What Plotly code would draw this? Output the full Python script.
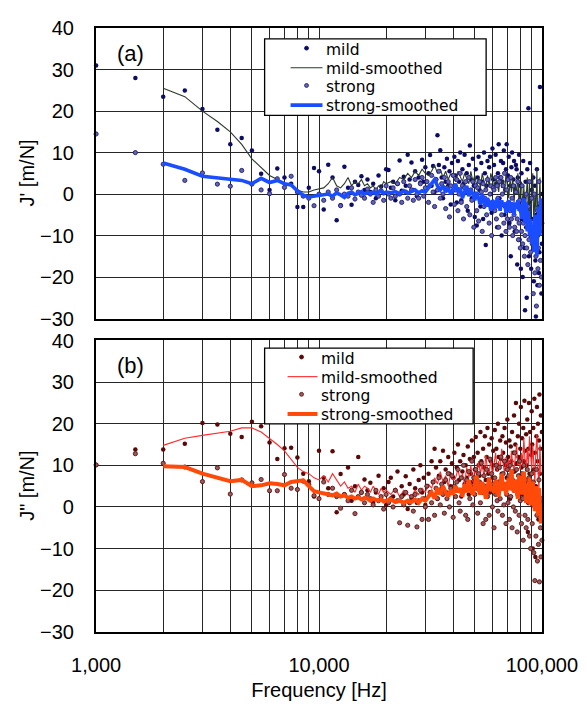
import plotly.graph_objects as go

# ---------------- data ----------------
# measurement frequencies (Hz): 1000 ... 100000 in 500 Hz steps (199 points)
freq = list(range(1000, 100001, 500))
# frequencies at which the smoothed curves are drawn
sm_freq = list(range(2000, 20001, 500)) + list(range(21000, 99001, 1000))

a_mild = [
    31, 28, 23.5, 25, 20.5, 15.5, 12, 13.5, 10.5, 4.9,
    1.0, 6.2, 4.0, 2.5, -3.1, -3.1, 1.5, 6.3, 5.5, -3.7,
    7.1, 4.0, -6.3, -2.7, 6.6, 1.5, -2.6, 3.0, 2.2, 4.3,
    1.0, 3.5, 0.5, 2.5, -1.0, 4.5, 1.8, 0.2, 6.0, 5.8,
    1.5, 3.0, -1.5, 2.5, 8.1, 0.8, 4.2, 2.0, 9.5, 3.5,
    7.6, 1.0, 5.5, -0.5, 4.0, 2.8, 8.3, 3.0, 6.5, 1.5,
    5.0, 9.4, 2.0, 6.8, 0.5, 3.5, 14.2, 7.0, 10.6, 4.0,
    -1.0, 6.5, 3.0, 8.5, 2.0, 5.5, -2.5, 7.5, 1.0, 9.0,
    4.5, -2.0, 8.0, 3.0, 10.0, -1.5, 6.0, 2.5, 9.5, 0.5,
    5.0, -4.0, 7.0, 11.7, 3.5, -1.0, 8.5, 2.0, -5.5, 6.0,
    -7.6, 4.0, 9.0, 1.0, -3.0, 7.5, 3.0, -6.0, 10.0, 5.0,
    -12.3, 2.0, 8.0, -2.0, 6.5, 9.0, 0.0, -4.5, 11.0, 3.5,
    7.0, -3.0, 9.5, 2.5, -8.0, 5.0, 12.0, -1.0, 4.0, 8.0,
    -10.0, 3.0, 7.5, 10.5, -5.0, 1.0, 6.0, 12.0, -2.5, 4.5,
    9.0, -7.0, 2.0, -15.0, 6.5, 10.0, -4.0, 3.5, 8.0, -9.0,
    1.0, 7.0, 6.0, -17.0, 4.0, -3.0, 9.5, -11.0, 2.0, -18.0,
    5.0, -6.0, -20.0, 8.0, -1.0, -13.0, -28.0, 3.0, -8.0, -25.0,
    6.0, -4.0, 20.7, -15.0, -2.0, 7.5, -10.0, -18.0, 1.0, -6.0,
    -12.0, 4.0, -21.0, -8.0, 2.0, -16.0, -29.5, -5.0, 6.0, -22.0,
    -10.0, -3.0, -19.0, -14.0, 25.8, -7.0, 0.0, -24.0, -12.0,
]
a_strong = [
    14.5, 10.0, 7.2, 3.3, 5.1, 2.4, 1.9, 5.7, 2.4, 1.0,
    0.1, 3.7, 1.6, 4.3, 0.5, -0.5, -1.0, -2.8, 0.0, -1.5,
    0.5, -1.0, 1.0, -2.8, 0.0, -0.5, 1.5, -1.2, 0.5, -0.3,
    -1.0, 1.2, 0.0, -2.0, 1.0, -0.5, 0.8, -1.5, 2.0, 0.0,
    -1.0, 1.5, -0.5, 2.5, 0.0, -2.0, 3.0, 0.5, -1.0, 2.0,
    1.0, -1.5, 3.5, 0.0, -1.0, 2.5, 4.0, -0.5, 1.5, 3.0,
    -2.0, 2.0, 4.5, 0.5, -3.0, 3.5, 1.0, 5.5, -1.0, 2.5,
    0.0, 4.0, -3.5, 1.5, 3.0, -5.5, 2.0, 0.5, 4.5, -2.5,
    1.0, 3.5, -4.0, 0.0, 5.0, -2.0, 2.0, -6.0, 1.5, 3.0,
    -3.0, 0.5, 4.0, -5.0, 1.0, -1.5, 3.0, -8.0, 0.0, 2.0,
    -4.0, 1.5, -6.5, 3.0, -2.0, 0.5, -9.0, 2.5, -3.0, -1.0,
    1.0, -5.0, 3.5, -2.5, -7.0, 0.0, 2.0, -10.0, -3.5, 1.5,
    1.0, -4.0, 4.0, -6.0, 2.0, -1.0, -8.0, 3.0, -2.5, 4.0,
    -5.0, 0.0, 2.0, -7.0, 5.0, -3.0, -9.0, 1.0, -6.0, 3.5,
    -2.0, -8.0, -4.0, 4.0, -6.0, -1.0, -10.0, 2.0, -5.0, -8.0,
    -3.0, 0.5, -9.0, -6.0, 3.0, -11.0, -7.0, -1.5, -13.0, -4.0,
    -9.0, 2.0, -12.0, -7.0, -2.0, -15.0, -10.0, -5.0, 0.0, -13.0,
    -8.0, -17.0, -3.0, -11.0, 3.0, -7.0, -14.0, -10.0, -1.0, -12.0,
    -8.0, -24.0, -12.0, 0.0, -19.0, -6.0, -15.0, -27.0, -10.0, -4.0,
    -18.0, -13.0, 3.0, -22.0, -9.0, -16.0, -2.0, -20.0, -7.0,
]
a_mild_sm = [
    25.5, 23.5, 20.0, 17.5, 15.0, 12.0, 8.5, 6.5, 4.5, 3.5,
    2.5, 2.0, 1.0, 0.5, 0.5, 1.0, 1.2, 1.5, 2.5, 4.0,
    2.0, 1.5, 2.5, 4.0, 2.0, 3.0, 2.5, 3.5, 2.0, 2.5,
    1.5, 2.0, 1.0, 2.0, 1.5, 3.0, 2.5,
    3.0, 2.5, 4.0, 3.5, 5.0, 4.0, 5.5, 4.5, 6.0, 5.0,
    4.5, 5.5, 7.0, 5.0, 6.0, 4.0, 5.5, 3.5, 5.0, 4.0,
    3.0, 5.5, 4.0, 3.0, 5.0, 3.5, 2.5, 5.5, 3.0, 4.5,
    2.0, 4.0, 1.5, 5.0, 3.0, 1.0, 4.5, 2.0, 5.0, 3.5,
    1.0, 4.0, 2.5, 0.5, 4.5, 1.5, 3.5, 0.0, 5.0, 2.0,
    -1.0, 3.5, 0.5, 4.0, -2.0, 2.5, 0.0, 5.0, -3.0, 1.5,
    3.0, -4.0, 2.0, -6.0, 0.0, 4.0, -5.0, 3.0, -7.0, 1.0,
    5.0, -8.0, 0.0, -4.0, 6.0, -10.0, -2.0, 4.0, -6.0,
]
a_strong_sm = [
    7.5, 6.0, 4.3, 4.0, 3.7, 3.3, 2.5, 3.8, 2.8, 3.3,
    2.5, 2.2, 0.8, -0.3, -0.7, -0.5, -0.5, -0.3, 0.0, -0.5,
    0.3, -0.2, -0.8, 0.2, 0.5, -0.2, 0.3, 0.6, 0.0, 0.4,
    0.2, 0.5, 0.0, 0.3, 0.8, 0.2, 0.5,
    0.3, 0.6, 0.1, 0.8, 0.2, 0.5, 1.0, 0.3, 0.8, 0.5,
    1.5, 2.5, 3.5, 2.0, 1.0, 2.0, 0.5, 1.5, 0.0, 1.0,
    2.5, 0.5, 1.5, -1.0, 0.5, 2.0, -0.5, 1.0, 0.0, -1.5,
    0.5, -1.0, -2.5, 0.0, -1.5, -3.0, -1.0, -2.0, -4.0, -1.5,
    -2.0, -3.5, -1.0, -2.5, -4.0, -1.5, -3.0, -2.0, -4.5, -2.5,
    -1.5, -4.0, -2.0, -3.0, -5.0, -2.0, -3.5, -1.5, -4.0, -2.5,
    -6.0, -3.0, -1.0, -7.0, -2.0, -9.0, -4.0, -10.0, -6.0, -12.0,
    -8.0, -14.0, -5.0, -11.0, -15.0, -7.0, -3.0, -10.0, -1.0,
]

b_mild = [
    10.1, 13.8, 13.8, 15.2, 20.2, 19.8, 17.6, 16.8, 20.5, 19.4,
    15.5, 11.5, 14.1, 14.2, 11.9, 8.0, 6.2, 2.5, 13.5, 7.0,
    4.5, 13.4, -1.3, 7.9, 3.0, 9.5, 1.5, 5.0, 12.0, 3.5,
    6.6, 4.0, 5.8, 1.0, 3.5, 7.5, 2.0, 4.5, 0.5, 6.0,
    7.0, 2.5, 4.0, 8.5, 1.5, 5.0, 3.0, 7.4, -0.5, 5.5,
    2.0, 9.0, 4.5, 1.0, 6.5, 10.0, 3.5, 7.0, 0.5, 5.0,
    8.0, 3.0, 11.0, 6.0, 14.0, 9.5, 2.0, 7.5, 11.0, 4.5,
    13.5, 6.0, 9.0, 3.5, 12.0, 8.0, 5.0, 10.5, 7.0, 13.0,
    4.0, 9.5, 15.0, 6.5, 11.0, 2.5, 8.5, 12.5, 5.5, 10.0,
    7.0, 14.5, 3.0, 11.5, 8.0, 16.0, 6.0, 12.0, 9.0, 16.8,
    5.0, 13.0, 10.0, 7.5, 18.0, 11.0, 4.0, 14.0, 9.5, 17.0,
    6.5, 12.0, 19.0, 8.0, 15.0, 3.5, 11.0, 16.5, 7.0, 13.5,
    10.0, 18.5, 5.0, 14.0, 9.0, 20.0, 12.0, 6.0, 16.0, 11.5,
    8.0, 17.0, 13.0, 4.5, 19.0, 10.0, 15.5, 7.0, 21.0, 12.0,
    9.0, 16.0, 2.0, 14.5, 11.0, 18.0, 6.5, 13.0, 22.0, 8.5,
    15.0, 25.0, 10.5, 5.0, 17.0, 12.0, 20.0, 7.5, 14.0, 24.0,
    9.5, 16.5, 3.0, 19.0, 11.0, 25.5, 13.5, 6.0, 17.5, 10.0,
    21.0, -6.0, 14.0, 25.0, 8.0, 18.0, 2.0, 12.5, 23.0, 15.0,
    -10.0, 19.0, 9.0, 26.0, 13.0, -12.0, 5.0, 17.0, 24.0, 11.0,
    20.0, -3.0, 16.0, 27.0, 8.0, 14.0, 22.0, -1.0, 18.0,
]
b_strong = [
    10.1, 12.8, 10.5, 9.6, 6.1, 9.4, 3.1, 6.5, 5.8, 6.6,
    3.9, 3.9, 7.8, 4.5, 4.2, 6.2, 5.4, 2.7, 2.0, 6.0,
    3.0, 4.5, 2.5, -0.3, 3.0, 1.5, 4.0, -1.6, 2.5, 3.5,
    1.0, 3.0, 2.0, 0.5, 4.0, 1.5, 2.5, -0.5, 3.0, 1.0,
    2.0, 0.0, 4.0, 1.5, -3.8, 2.5, 0.5, 3.5, -4.4, 1.0,
    2.5, -1.0, 3.0, -4.8, 1.5, 4.0, -3.0, 2.0, 0.0, 5.0,
    -3.0, 3.5, 1.0, 6.0, -2.0, 4.5, 2.0, 7.0, 0.5, 5.5,
    3.0, -1.5, 6.5, 2.0, 8.0, 0.0, 4.5, 7.5, -2.5, 5.0,
    2.5, 6.0, 9.0, 1.0, -1.0, 7.0, 3.5, 10.0, 4.0, -2.0,
    6.5, -3.0, 8.5, 2.0, 5.0, 11.0, 0.5, 7.0, 3.0, 9.0,
    4.5, -1.5, 8.0, 6.0, 1.0, 10.5, 3.5, -4.0, 7.5, 5.0,
    -3.0, 9.0, 2.5, 6.5, -2.0, 11.5, 4.0, 8.0, 0.0, 5.5,
    -5.0, 7.0, 3.0, 10.0, 1.5, -1.0, 6.0, 9.5, 2.0, 12.0,
    4.5, -2.0, 8.0, 0.5, 11.0, 5.0, -4.0, 3.0, 9.0, 1.0,
    7.5, -3.0, 10.0, 2.5, 5.5, -5.0, 8.5, 0.0, 4.0, 13.0,
    -1.0, 6.0, 9.0, -6.0, 3.0, 7.5, -2.0, 11.0, 1.5, 5.0,
    -4.0, 8.0, 2.0, -8.0, 10.0, 4.5, -2.0, 6.5, -5.0, 3.0,
    9.0, -3.0, 1.0, 7.0, -7.0, 5.0, -10.0, 3.5, 8.0, -4.0,
    0.5, 6.0, -11.0, 2.5, -17.7, 4.0, -7.0, 9.0, -2.0, -13.0,
    3.0, -9.0, 6.5, -18.0, 1.0, -5.0, -12.0, 2.0, -8.0,
]
b_mild_sm = [
    14.8, 16.5, 17.2, 17.7, 18.2, 19.0, 19.0, 18.0, 16.5, 15.0,
    13.5, 11.5, 9.5, 8.5, 8.0, 7.0, 6.5, 7.5, 6.0, 8.0,
    6.5, 5.0, 6.0, 4.5, 5.0, 3.5, 5.5, 4.0, 5.0, 4.5,
    3.5, 5.0, 4.0, 3.0, 4.5, 3.5, 4.0,
    3.0, 4.5, 2.5, 4.0, 3.0, 2.5, 4.0, 3.0, 4.5, 3.5,
    5.5, 4.5, 7.0, 5.5, 8.5, 6.0, 7.5, 5.0, 8.0, 6.5,
    7.0, 9.0, 6.5, 8.0, 5.5, 9.5, 7.0, 10.0, 6.0, 9.0,
    7.5, 11.0, 8.0, 10.5, 7.0, 12.5, 9.0, 8.0, 11.5, 7.5,
    10.0, 13.0, 8.5, 11.0, 9.0, 14.0, 10.5, 8.0, 12.0, 9.5,
    11.5, 8.5, 13.5, 10.0, 9.0, 12.5, 15.0, 10.0, 11.5, 9.0,
    13.0, 10.5, 16.5, 11.0, 8.5, 14.0, 10.0, 17.0, 12.0, 9.0,
    15.0, 11.0, 6.0, 13.5, 17.5, 9.0, 4.0, 15.0, 8.0,
]
b_strong_sm = [
    9.8, 9.6, 8.0, 7.0, 6.2, 6.5, 5.0, 5.2, 5.7, 5.5,
    5.2, 6.0, 6.2, 6.4, 5.0, 3.8, 3.5, 3.2, 3.0, 2.8,
    3.2, 2.5, 2.8, 2.2, 2.5, 2.0, 2.3, 1.8, 2.2, 2.0,
    1.5, 2.0, 1.7, 1.5, 1.8, 1.3, 1.5,
    1.8, 1.2, 1.5, 1.0, 1.5, 1.2, 1.8, 1.0, 2.0, 1.5,
    2.5, 3.5, 2.0, 4.5, 3.0, 5.0, 3.5, 2.5, 4.0, 3.0,
    5.0, 3.5, 4.5, 2.5, 5.5, 3.5, 6.5, 4.0, 3.0, 5.0,
    7.5, 4.0, 3.0, 6.0, 4.5, 2.0, 5.5, 7.0, 4.0, 5.0,
    3.5, 6.5, 4.5, 2.5, 5.5, 8.0, 4.0, 6.0, 3.0, 5.5,
    7.0, 4.0, 9.0, 5.0, 3.5, 6.5, 4.0, 2.0, 7.5, 5.0,
    3.0, 6.0, 8.5, 4.5, 1.0, 5.5, 2.5, 7.0, 0.5, 4.0,
    6.0, 1.5, -1.0, 5.0, 2.0, -2.0, 4.5, 0.0, -4.0,
]

x_tick_vals = [1000, 10000, 100000]
x_tick_text = ["1,000", "10,000", "100,000"]
x_minor_vals = [2000, 3000, 4000, 5000, 6000, 7000, 8000, 9000,
                20000, 30000, 40000, 50000, 60000, 70000, 80000, 90000]
legend_names = ["mild", "mild-smoothed", "strong", "strong-smoothed"]
y_titles = ["J' [m/N]", 'J" [m/N]']

# ---------------- figure ----------------
# the page body has an 8 px margin: figure is sized to fill the rest
OFF = 8
W, H = 587 - OFF, 711 - OFF
ML, MR, MT, MB = 96 - OFF, 587 - 543, 17 - OFF, 711 - 632
PW, PH = W - ML - MR, H - MT - MB


def px(x):  # window pixel -> paper x
    return (x - OFF - ML) / PW


def py(y):  # window pixel -> paper y
    return (H - MB - (y - OFF)) / PH


dom_a = [py(313), 1.0]
dom_b = [0.0, py(335)]

FONT = "Liberation Sans, Arial, sans-serif"
LFONT = "DejaVu Sans, sans-serif"

panels = [
    dict(mild=a_mild, strong=a_strong, msm=a_mild_sm, ssm=a_strong_sm,
         mild_col="#0c0c66", strong_fill="#6464aa", strong_line="#1c1c78",
         msm_col="#2a3a2a", msm_w=1.1, ssm_col="#1a4dff", ssm_w=3.6,
         xa="x", ya="y"),
    dict(mild=b_mild, strong=b_strong, msm=b_mild_sm, ssm=b_strong_sm,
         mild_col="#5a0808", strong_fill="#9a5a5a", strong_line="#5a1010",
         msm_col="#ff2a2a", msm_w=1.1, ssm_col="#ff4a0a", ssm_w=4.0,
         xa="x2", ya="y2"),
]

fig = go.Figure()
for p in panels:
    fig.add_trace(go.Scatter(x=freq, y=p["mild"], mode="markers", name="mild",
                             marker=dict(size=4.5, color=p["mild_col"]), cliponaxis=False,
                             xaxis=p["xa"], yaxis=p["ya"]))
    fig.add_trace(go.Scatter(x=sm_freq, y=p["msm"], mode="lines", name="mild-smoothed",
                             line=dict(color=p["msm_col"], width=p["msm_w"]),
                             xaxis=p["xa"], yaxis=p["ya"]))
    fig.add_trace(go.Scatter(x=freq, y=p["strong"], mode="markers", name="strong",
                             marker=dict(size=4.2, color=p["strong_fill"],
                                         line=dict(color=p["strong_line"], width=0.9)),
                             cliponaxis=False, xaxis=p["xa"], yaxis=p["ya"]))
    fig.add_trace(go.Scatter(x=sm_freq, y=p["ssm"], mode="lines", name="strong-smoothed",
                             line=dict(color=p["ssm_col"], width=p["ssm_w"]),
                             xaxis=p["xa"], yaxis=p["ya"]))

GRID = "#262626"
common_x = dict(type="log", range=[2.9995, 5.0005], tickvals=x_tick_vals,
                ticktext=x_tick_text, showgrid=True, gridcolor=GRID, gridwidth=1,
                minor=dict(tickvals=x_minor_vals, showgrid=True, gridcolor=GRID,
                           gridwidth=1, ticks=""),
                showline=True, mirror=True, linecolor="black", linewidth=2.2,
                ticks="", zeroline=False)
common_y = dict(range=[-30.05, 40.05], tickvals=[-30, -20, -10, 0, 10, 20, 30, 40],
                showgrid=True, gridcolor=GRID,
                gridwidth=1, showline=True, mirror=True, linecolor="black",
                linewidth=2.2, ticks="", zeroline=False, ticklabelstandoff=16,
                tickfont=dict(size=20))

fig.update_layout(
    width=W, height=H, margin=dict(l=ML, r=MR, t=MT, b=MB),
    plot_bgcolor="white", paper_bgcolor="white", showlegend=False,
    font=dict(family=FONT, size=20, color="black"),
    xaxis=dict(common_x, domain=[0, 1], anchor="y", showticklabels=False),
    yaxis=dict(common_y, domain=dom_a, anchor="x"),
    xaxis2=dict(common_x, domain=[0, 1], anchor="y2", showticklabels=True,
                ticklabelstandoff=14, tickfont=dict(size=20),
                title=dict(text="Frequency [Hz]", standoff=8, font=dict(size=20))),
    yaxis2=dict(common_y, domain=dom_b, anchor="x2"),
)

# y-axis titles (rotated), placed to match the reference
for txt, cy in zip(y_titles, [165, 483]):
    fig.add_annotation(text=txt, x=px(27), y=py(cy), xref="paper", yref="paper",
                       showarrow=False, textangle=-90, xanchor="center",
                       yanchor="middle", font=dict(size=20, family=FONT, color="black"))

# panel labels
for txt, (lx, ly) in [("(a)", (131, 43)), ("(b)", (131, 361))]:
    fig.add_annotation(text=txt, x=px(lx), y=py(ly), xref="paper", yref="paper",
                       showarrow=False, xanchor="center", yanchor="middle",
                       font=dict(size=22, family=FONT, color="black"))

# legends (one boxed legend per panel)
legend_boxes = [
    dict(box=(265, 28, 487, 106), sym_x=307, line_x=(291, 323), text_x=327,
         rows=[39.5, 58.5, 77.5, 96.5], p=panels[0]),
    dict(box=(265, 343, 474, 420), sym_x=302, line_x=(288, 318), text_x=322,
         rows=[354, 373, 392, 411], p=panels[1]),
]
for lg in legend_boxes:
    x0, y0, x1, y1 = lg["box"]
    p = lg["p"]
    fig.add_shape(type="rect", xref="paper", yref="paper", x0=px(x0), x1=px(x1),
                  y0=py(y1), y1=py(y0), line=dict(color="black", width=1.3),
                  fillcolor="white", layer="above")
    for k, (name, ry) in enumerate(zip(legend_names, lg["rows"])):
        if k in (0, 2):
            r = 2.0
            fill = p["mild_col"] if k == 0 else p["strong_fill"]
            lc = p["mild_col"] if k == 0 else p["strong_line"]
            fig.add_shape(type="circle", xref="paper", yref="paper",
                          x0=px(lg["sym_x"] - r), x1=px(lg["sym_x"] + r),
                          y0=py(ry - 2 + r), y1=py(ry - 2 - r),
                          fillcolor=fill, line=dict(color=lc, width=0.8), layer="above")
        else:
            col = p["msm_col"] if k == 1 else p["ssm_col"]
            wd = p["msm_w"] if k == 1 else p["ssm_w"]
            fig.add_shape(type="line", xref="paper", yref="paper",
                          x0=px(lg["line_x"][0]), x1=px(lg["line_x"][1]),
                          y0=py(ry - 1), y1=py(ry - 1),
                          line=dict(color=col, width=wd), layer="above")
        fig.add_annotation(text=name, x=px(lg["text_x"]), y=py(ry), xref="paper",
                           yref="paper", showarrow=False, xanchor="left",
                           yanchor="middle", borderpad=0, borderwidth=0,
                           font=dict(size=15.5, family=LFONT, color="black"))

fig.write_html("out.html")
